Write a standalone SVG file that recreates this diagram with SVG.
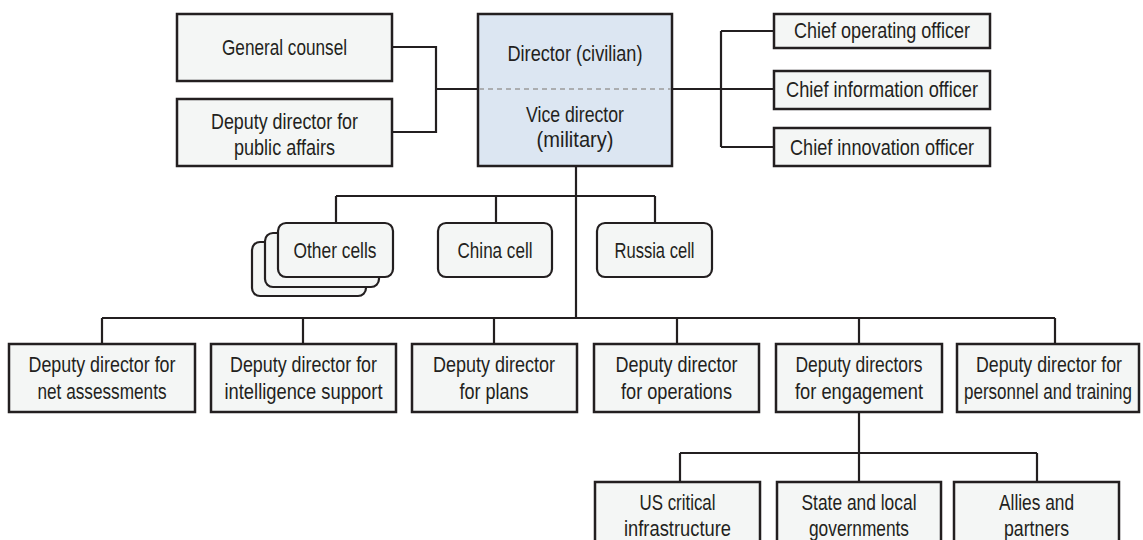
<svg xmlns="http://www.w3.org/2000/svg" width="1143" height="540" viewBox="0 0 1143 540">
<style>
.box{fill:#f4f6f5;stroke:#231f20;stroke-width:2.5}
.dir{fill:#dce6f2;stroke:#231f20;stroke-width:2.5}
.cell{fill:#f4f6f5;stroke:#231f20;stroke-width:2.2}
.t{font-family:"Liberation Sans",Arial,sans-serif;font-size:22.5px;fill:#231f20;text-anchor:middle}
.c{fill:none;stroke:#231f20;stroke-width:2.2}
</style>
<rect width="1143" height="540" fill="#ffffff"/>
<g id="connectors">
<path class="c" d="M393,47H436V132H393M436,89H477"/>
<path class="c" d="M673,89H721M721,31V147M721,31H773M721,89H773M721,147H773"/>
<path class="c" d="M576,167V318"/>
<path class="c" d="M336,196H655M336,196V223M496,196V223M655,196V223"/>
<path class="c" d="M102,318H1055M102,318V343M303,318V343M494,318V343M677,318V343M859,318V343M1055,318V343"/>
<path class="c" d="M859,413V453M680,453H1037M680,453V481M859,453V481M1037,453V481"/>
</g>
<g id="general-counsel">
<rect class="box" x="177" y="14" width="215" height="67"/>
<text class="t" x="284.5" y="55" textLength="125" lengthAdjust="spacingAndGlyphs">General counsel</text>
</g>
<g id="public-affairs">
<rect class="box" x="177" y="99" width="215" height="67"/>
<text class="t" x="284.5" y="129" textLength="147" lengthAdjust="spacingAndGlyphs">Deputy director for</text>
<text class="t" x="284.5" y="155" textLength="101" lengthAdjust="spacingAndGlyphs">public affairs</text>
</g>
<g id="director">
<rect class="dir" x="478" y="14" width="194" height="152"/>
<line x1="479" y1="89" x2="671" y2="89" stroke="#9a9a9a" stroke-width="1.5" stroke-dasharray="5,4"/>
<text class="t" x="575" y="61" textLength="135" lengthAdjust="spacingAndGlyphs">Director (civilian)</text>
<text class="t" x="575" y="122" textLength="98" lengthAdjust="spacingAndGlyphs">Vice director</text>
<text class="t" x="575" y="147" textLength="77" lengthAdjust="spacingAndGlyphs">(military)</text>
</g>
<g id="coo">
<rect class="box" x="774" y="14" width="216" height="34"/>
<text class="t" x="882" y="38" textLength="176" lengthAdjust="spacingAndGlyphs">Chief operating officer</text>
</g>
<g id="cio">
<rect class="box" x="774" y="71" width="216" height="38"/>
<text class="t" x="882" y="97" textLength="192" lengthAdjust="spacingAndGlyphs">Chief information officer</text>
</g>
<g id="cino">
<rect class="box" x="774" y="128" width="216" height="38"/>
<text class="t" x="882" y="155" textLength="184" lengthAdjust="spacingAndGlyphs">Chief innovation officer</text>
</g>
<g id="other-cells">
<rect class="cell" x="252" y="242" width="114" height="54" rx="8"/>
<rect class="cell" x="265" y="233" width="114" height="54" rx="8"/>
<rect class="cell" x="278" y="223" width="115" height="54" rx="8"/>
<text class="t" x="335" y="258" textLength="83" lengthAdjust="spacingAndGlyphs">Other cells</text>
</g>
<g id="china-cell">
<rect class="cell" x="438" y="223" width="114" height="54" rx="8"/>
<text class="t" x="495" y="258" textLength="75" lengthAdjust="spacingAndGlyphs">China cell</text>
</g>
<g id="russia-cell">
<rect class="cell" x="597" y="223" width="115" height="54" rx="8"/>
<text class="t" x="654.5" y="258" textLength="80" lengthAdjust="spacingAndGlyphs">Russia cell</text>
</g>
<g id="dd-net">
<rect class="box" x="9" y="344" width="186" height="68"/>
<text class="t" x="102" y="372" textLength="147" lengthAdjust="spacingAndGlyphs">Deputy director for</text>
<text class="t" x="102" y="399" textLength="129" lengthAdjust="spacingAndGlyphs">net assessments</text>
</g>
<g id="dd-intel">
<rect class="box" x="211" y="344" width="185" height="68"/>
<text class="t" x="303.5" y="372" textLength="147" lengthAdjust="spacingAndGlyphs">Deputy director for</text>
<text class="t" x="303.5" y="399" textLength="158" lengthAdjust="spacingAndGlyphs">intelligence support</text>
</g>
<g id="dd-plans">
<rect class="box" x="412" y="344" width="165" height="68"/>
<text class="t" x="494" y="372" textLength="122" lengthAdjust="spacingAndGlyphs">Deputy director</text>
<text class="t" x="494" y="399" textLength="69" lengthAdjust="spacingAndGlyphs">for plans</text>
</g>
<g id="dd-ops">
<rect class="box" x="594" y="344" width="165" height="68"/>
<text class="t" x="676.5" y="372" textLength="122" lengthAdjust="spacingAndGlyphs">Deputy director</text>
<text class="t" x="676.5" y="399" textLength="111" lengthAdjust="spacingAndGlyphs">for operations</text>
</g>
<g id="dd-engagement">
<rect class="box" x="776" y="344" width="166" height="68"/>
<text class="t" x="859" y="372" textLength="127" lengthAdjust="spacingAndGlyphs">Deputy directors</text>
<text class="t" x="859" y="399" textLength="128" lengthAdjust="spacingAndGlyphs">for engagement</text>
</g>
<g id="dd-personnel">
<rect class="box" x="957" y="344" width="182" height="68"/>
<text class="t" x="1049" y="372" textLength="146" lengthAdjust="spacingAndGlyphs">Deputy director for</text>
<text class="t" x="1048" y="399" textLength="168" lengthAdjust="spacingAndGlyphs">personnel and training</text>
</g>
<g id="us-critical">
<rect class="box" x="595" y="482" width="165" height="70"/>
<text class="t" x="677.5" y="510" textLength="76" lengthAdjust="spacingAndGlyphs">US critical</text>
<text class="t" x="677.5" y="536" textLength="107" lengthAdjust="spacingAndGlyphs">infrastructure</text>
</g>
<g id="state-local">
<rect class="box" x="777" y="482" width="164" height="70"/>
<text class="t" x="859" y="510" textLength="115" lengthAdjust="spacingAndGlyphs">State and local</text>
<text class="t" x="859" y="536" textLength="100" lengthAdjust="spacingAndGlyphs">governments</text>
</g>
<g id="allies">
<rect class="box" x="954" y="482" width="165" height="70"/>
<text class="t" x="1036.5" y="510" textLength="75" lengthAdjust="spacingAndGlyphs">Allies and</text>
<text class="t" x="1036.5" y="536" textLength="65" lengthAdjust="spacingAndGlyphs">partners</text>
</g>
</svg>
